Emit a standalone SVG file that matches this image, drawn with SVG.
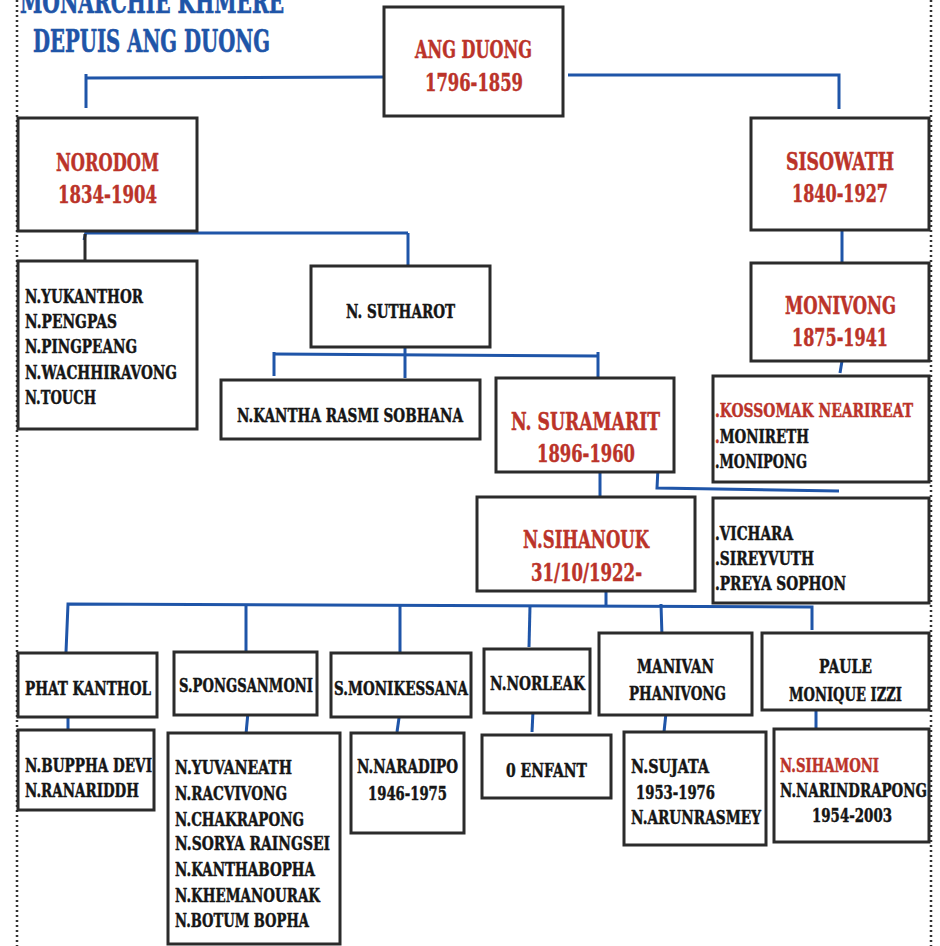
<svg xmlns="http://www.w3.org/2000/svg" width="940" height="946" viewBox="0 0 940 946">
<defs>
<style>
.bx{fill:#fff;stroke:#2b2b2b;stroke-width:3}
.c{fill:none;stroke:#1f55a8;stroke-width:3}
.t{font-family:"DejaVu Serif","Liberation Serif",serif;font-weight:bold;font-size:19px;fill:#151515;stroke:#151515;stroke-width:0.5}
.r{font-family:"DejaVu Serif","Liberation Serif",serif;font-weight:bold;font-size:25px;fill:#bb3329;stroke:#bb3329;stroke-width:0.5}
.rs{fill:#bb3329;stroke:#bb3329}
.ti{font-family:"DejaVu Serif","Liberation Serif",serif;font-weight:bold;font-size:31px;fill:#1f55a8;stroke:#1f55a8;stroke-width:0.6}
.dot{fill:none;stroke:#333;stroke-width:2.5;stroke-dasharray:2 3}
</style>
</defs>
<rect x="0" y="0" width="940" height="946" fill="#fff"/>
<line class="dot" x1="17" y1="0" x2="17" y2="946"/>
<line class="dot" x1="931" y1="0" x2="931" y2="946"/>
<g id="title">
<text class="ti" x="20" y="13" textLength="264" lengthAdjust="spacingAndGlyphs">MONARCHIE KHMERE</text>
<text class="ti" x="33" y="52" textLength="237" lengthAdjust="spacingAndGlyphs">DEPUIS ANG DUONG</text>
</g>
<g id="connectors">
<polyline class="c" points="86,74 86,108"/>
<polyline class="c" points="86,78 384,77"/>
<polyline class="c" points="568,75 839,75 839,109"/>
<line class="c" x1="842" y1="230" x2="842" y2="264"/>
<line class="c" x1="842" y1="361" x2="840" y2="373"/>
<line class="c" x1="84" y1="240" x2="87" y2="228"/>
<line class="c" x1="86" y1="233" x2="408" y2="233"/>
<line x1="85" y1="234" x2="85" y2="260" stroke="#2b2b2b" stroke-width="3"/>
<line class="c" x1="408" y1="233" x2="408" y2="265"/>
<line class="c" x1="274" y1="354" x2="598" y2="356"/>
<line class="c" x1="274" y1="352" x2="274" y2="376"/>
<line class="c" x1="405" y1="347" x2="405" y2="378"/>
<line class="c" x1="598" y1="352" x2="598" y2="380"/>
<line class="c" x1="600" y1="472" x2="600" y2="496"/>
<polyline class="c" points="658,468 657,488 839,491"/>
<line class="c" x1="606" y1="577" x2="606" y2="605"/>
<polyline class="c" points="66,652 68,604 812,607 812,630"/>
<line class="c" x1="246" y1="604" x2="246" y2="653"/>
<line class="c" x1="400" y1="605" x2="400" y2="653"/>
<line class="c" x1="530" y1="606" x2="529" y2="647"/>
<line class="c" x1="661" y1="604" x2="662" y2="637"/>
<line class="c" x1="68" y1="712" x2="68" y2="730"/>
<line class="c" x1="248" y1="712" x2="246" y2="734"/>
<line class="c" x1="400" y1="711" x2="397" y2="732"/>
<line class="c" x1="533" y1="711" x2="532" y2="732"/>
<line class="c" x1="666" y1="713" x2="664" y2="732"/>
<line class="c" x1="816" y1="711" x2="816" y2="730"/>
</g>
<g id="ang-duong">
<rect class="bx" x="384" y="7" width="179" height="109"/>
<text class="r" x="415" y="58" textLength="117" lengthAdjust="spacingAndGlyphs">ANG DUONG</text>
<text class="r" x="425" y="91" textLength="98" lengthAdjust="spacingAndGlyphs">1796-1859</text>
</g>
<g id="norodom">
<rect class="bx" x="18" y="118" width="179" height="113"/>
<text class="r" x="56" y="171" textLength="103" lengthAdjust="spacingAndGlyphs">NORODOM</text>
<text class="r" x="58" y="203" textLength="99" lengthAdjust="spacingAndGlyphs">1834-1904</text>
</g>
<g id="sisowath">
<rect class="bx" x="751" y="118" width="178" height="112"/>
<text class="r" x="786" y="170" textLength="108" lengthAdjust="spacingAndGlyphs">SISOWATH</text>
<text class="r" x="792" y="202" textLength="96" lengthAdjust="spacingAndGlyphs">1840-1927</text>
</g>
<g id="norodom-children">
<rect class="bx" x="18" y="261" width="179" height="168"/>
<text class="t" x="25" y="303" textLength="118" lengthAdjust="spacingAndGlyphs">N.YUKANTHOR</text>
<text class="t" x="25" y="328" textLength="92" lengthAdjust="spacingAndGlyphs">N.PENGPAS</text>
<text class="t" x="25" y="353" textLength="112" lengthAdjust="spacingAndGlyphs">N.PINGPEANG</text>
<text class="t" x="25" y="379" textLength="152" lengthAdjust="spacingAndGlyphs">N.WACHHIRAVONG</text>
<text class="t" x="25" y="404" textLength="71" lengthAdjust="spacingAndGlyphs">N.TOUCH</text>
</g>
<g id="sutharot">
<rect class="bx" x="311" y="266" width="179" height="81"/>
<text class="t" x="346" y="318" textLength="109" lengthAdjust="spacingAndGlyphs">N. SUTHAROT</text>
</g>
<g id="kantha">
<rect class="bx" x="221" y="380" width="259" height="59"/>
<text class="t" x="237" y="422" textLength="226" lengthAdjust="spacingAndGlyphs">N.KANTHA RASMI SOBHANA</text>
</g>
<g id="suramarit">
<rect class="bx" x="496" y="378" width="178" height="94"/>
<text class="r" x="511" y="430" textLength="149" lengthAdjust="spacingAndGlyphs">N. SURAMARIT</text>
<text class="r" x="537" y="462" textLength="98" lengthAdjust="spacingAndGlyphs">1896-1960</text>
</g>
<g id="monivong">
<rect class="bx" x="751" y="263" width="178" height="98"/>
<text class="r" x="785" y="314" textLength="111" lengthAdjust="spacingAndGlyphs">MONIVONG</text>
<text class="r" x="792" y="346" textLength="96" lengthAdjust="spacingAndGlyphs">1875-1941</text>
</g>
<g id="monivong-children">
<rect class="bx" x="713" y="376" width="216" height="106"/>
<text class="t rs" x="715" y="417" textLength="198" lengthAdjust="spacingAndGlyphs">.KOSSOMAK NEARIREAT</text>
<text class="t" x="715" y="443" textLength="94" lengthAdjust="spacingAndGlyphs"><tspan class="rs">.</tspan>MONIRETH</text>
<text class="t" x="715" y="468" textLength="92" lengthAdjust="spacingAndGlyphs">.MONIPONG</text>
</g>
<g id="sihanouk">
<rect class="bx" x="477" y="497" width="218" height="94"/>
<text class="r" x="523" y="548" textLength="126" lengthAdjust="spacingAndGlyphs">N.SIHANOUK</text>
<text class="r" x="531" y="581" textLength="111" lengthAdjust="spacingAndGlyphs">31/10/1922-</text>
</g>
<g id="suramarit-children">
<rect class="bx" x="713" y="498" width="216" height="105"/>
<text class="t" x="715" y="540" textLength="78" lengthAdjust="spacingAndGlyphs">.VICHARA</text>
<text class="t" x="715" y="565" textLength="99" lengthAdjust="spacingAndGlyphs">.SIREYVUTH</text>
<text class="t" x="715" y="590" textLength="131" lengthAdjust="spacingAndGlyphs">.PREYA SOPHON</text>
</g>
<g id="phat-kanthol">
<rect class="bx" x="18" y="653" width="139" height="64"/>
<text class="t" x="25" y="695" textLength="126" lengthAdjust="spacingAndGlyphs">PHAT KANTHOL</text>
</g>
<g id="pongsanmoni">
<rect class="bx" x="174" y="652" width="143" height="63"/>
<text class="t" x="179" y="692" textLength="134" lengthAdjust="spacingAndGlyphs">S.PONGSANMONI</text>
</g>
<g id="monikessana">
<rect class="bx" x="331" y="653" width="140" height="64"/>
<text class="t" x="334" y="695" textLength="134" lengthAdjust="spacingAndGlyphs">S.MONIKESSANA</text>
</g>
<g id="norleak">
<rect class="bx" x="484" y="649" width="106" height="64"/>
<text class="t" x="490" y="690" textLength="95" lengthAdjust="spacingAndGlyphs">N.NORLEAK</text>
</g>
<g id="manivan">
<rect class="bx" x="599" y="633" width="153" height="82"/>
<text class="t" x="637" y="673" textLength="77" lengthAdjust="spacingAndGlyphs">MANIVAN</text>
<text class="t" x="629" y="700" textLength="97" lengthAdjust="spacingAndGlyphs">PHANIVONG</text>
</g>
<g id="paule">
<rect class="bx" x="762" y="633" width="167" height="77"/>
<text class="t" x="819" y="673" textLength="53" lengthAdjust="spacingAndGlyphs">PAULE</text>
<text class="t" x="789" y="701" textLength="113" lengthAdjust="spacingAndGlyphs">MONIQUE IZZI</text>
</g>
<g id="phat-children">
<rect class="bx" x="18" y="730" width="136" height="80"/>
<text class="t" x="25" y="772" textLength="127" lengthAdjust="spacingAndGlyphs">N.BUPPHA DEVI</text>
<text class="t" x="25" y="797" textLength="114" lengthAdjust="spacingAndGlyphs">N.RANARIDDH</text>
</g>
<g id="pongsanmoni-children">
<rect class="bx" x="168" y="733" width="172" height="211"/>
<text class="t" x="175" y="774" textLength="117" lengthAdjust="spacingAndGlyphs">N.YUVANEATH</text>
<text class="t" x="175" y="800" textLength="112" lengthAdjust="spacingAndGlyphs">N.RACVIVONG</text>
<text class="t" x="175" y="826" textLength="129" lengthAdjust="spacingAndGlyphs">N.CHAKRAPONG</text>
<text class="t" x="175" y="850" textLength="155" lengthAdjust="spacingAndGlyphs">N.SORYA RAINGSEI</text>
<text class="t" x="175" y="876" textLength="140" lengthAdjust="spacingAndGlyphs">N.KANTHABOPHA</text>
<text class="t" x="175" y="902" textLength="145" lengthAdjust="spacingAndGlyphs">N.KHEMANOURAK</text>
<text class="t" x="175" y="927" textLength="134" lengthAdjust="spacingAndGlyphs">N.BOTUM BOPHA</text>
</g>
<g id="monikessana-children">
<rect class="bx" x="351" y="733" width="113" height="100"/>
<text class="t" x="357" y="773" textLength="101" lengthAdjust="spacingAndGlyphs">N.NARADIPO</text>
<text class="t" x="368" y="800" textLength="79" lengthAdjust="spacingAndGlyphs">1946-1975</text>
</g>
<g id="norleak-children">
<rect class="bx" x="482" y="735" width="129" height="63"/>
<text class="t" x="506" y="777" textLength="81" lengthAdjust="spacingAndGlyphs">0 ENFANT</text>
</g>
<g id="manivan-children">
<rect class="bx" x="624" y="732" width="142" height="113"/>
<text class="t" x="631" y="773" textLength="78" lengthAdjust="spacingAndGlyphs">N.SUJATA</text>
<text class="t" x="636" y="799" textLength="79" lengthAdjust="spacingAndGlyphs">1953-1976</text>
<text class="t" x="631" y="824" textLength="130" lengthAdjust="spacingAndGlyphs">N.ARUNRASMEY</text>
</g>
<g id="paule-children">
<rect class="bx" x="774" y="729" width="155" height="113"/>
<text class="t rs" x="780" y="772" textLength="99" lengthAdjust="spacingAndGlyphs">N.SIHAMONI</text>
<text class="t" x="780" y="797" textLength="147" lengthAdjust="spacingAndGlyphs">N.NARINDRAPONG</text>
<text class="t" x="812" y="822" textLength="80" lengthAdjust="spacingAndGlyphs">1954-2003</text>
</g>
</svg>
